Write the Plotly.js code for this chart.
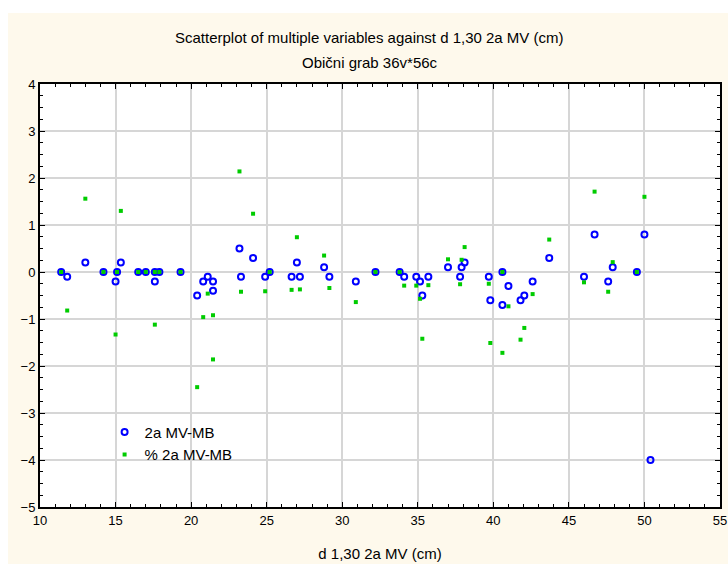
<!DOCTYPE html>
<html>
<head>
<meta charset="utf-8">
<script src="https://cdn.plot.ly/plotly-3.0.1.min.js"></script>
<style>
html,body{margin:0;padding:0;background:#FFFFFF;}
#wrap{position:relative;width:728px;height:568px;}
#bg{position:absolute;left:8px;top:13px;width:720px;height:551px;background:#FEF9EC;}
#chart{position:absolute;left:0;top:0;width:728px;height:568px;}
</style>
</head>
<body>
<div id="wrap"><div id="bg"></div><div id="chart"></div></div>
<script>
// d 1,30 2a MV (cm)
const diameter = [11.4, 11.8, 13.0, 14.2, 15.0, 15.1, 15.35, 16.5, 17.0, 17.6, 17.6, 17.9, 19.3,
  20.4, 20.8, 21.1, 21.45, 21.45, 23.2, 23.3, 24.1, 24.9, 25.2, 26.65, 27.0, 27.2, 28.8, 29.15,
  30.9, 32.2, 33.8, 34.1, 34.9, 35.15, 35.3, 35.7, 37.0, 37.8, 37.9, 38.1, 39.7, 39.8, 40.6, 40.6,
  41.0, 41.8, 42.05, 42.6, 43.7, 46.0, 46.7, 47.6, 47.9, 49.5, 50.0, 50.4];
// 2a MV-MB
const diffMB = [0, -0.1, 0.2, 0, -0.2, 0, 0.2, 0, 0, 0, -0.2, 0, 0,
  -0.5, -0.2, -0.1, -0.2, -0.4, 0.5, -0.1, 0.3, -0.1, 0, -0.1, 0.2, -0.1, 0.1, -0.1,
  -0.2, 0, 0, -0.1, -0.1, -0.2, -0.5, -0.1, 0.1, -0.1, 0.1, 0.2, -0.1, -0.6, 0, -0.7,
  -0.3, -0.6, -0.5, -0.2, 0.3, -0.1, 0.8, -0.2, 0.1, 0, 0.8, -4.0];
// % 2a MV-MB
const pctMB = [0, -0.82, 1.56, 0, -1.33, 0, 1.30, 0, 0, 0, -1.12, 0, 0,
  -2.45, -0.96, -0.46, -0.92, -1.86, 2.14, -0.42, 1.24, -0.41, 0, -0.38, 0.74, -0.37, 0.35, -0.34,
  -0.64, 0, 0, -0.29, -0.29, -0.57, -1.42, -0.28, 0.27, -0.26, 0.26, 0.53, -0.25, -1.51, 0, -1.72,
  -0.73, -1.44, -1.19, -0.47, 0.69, -0.22, 1.71, -0.42, 0.21, 0, 1.60, -7.94];

const seriesNames = ['2a MV-MB', '% 2a MV-MB'];
const titleLine1 = 'Scatterplot of multiple variables against d 1,30 2a MV (cm)';
const titleLine2 = 'Obični grab 36v*56c';
const xTitle = 'd 1,30 2a MV (cm)';

const font = 'Liberation Sans, Arial, sans-serif';

const traces = [
  {
    x: diameter, y: diffMB, name: seriesNames[0], type: 'scatter', mode: 'markers',
    marker: {symbol: 'circle-open', size: 6, color: '#0000FF', line: {width: 2, color: '#0000FF'}}
  },
  {
    x: diameter, y: pctMB, name: seriesNames[1], type: 'scatter', mode: 'markers',
    marker: {symbol: 'square', size: 4, color: '#00CC00'}
  }
];

const axisCommon = {
  showline: true, linecolor: '#000', linewidth: 2, mirror: 'allticks',
  ticks: 'inside', ticklen: 5, tickwidth: 1, tickcolor: '#000',
  showgrid: true, gridcolor: '#D6D6D6', gridwidth: 2, zeroline: false,
  tickfont: {family: font, size: 13, color: '#000'}
};

const layout = {
  width: 728, height: 568,
  paper_bgcolor: 'rgba(0,0,0,0)', plot_bgcolor: '#FFFFFF',
  margin: {l: 40, r: 8, t: 84, b: 61},
  annotations: [
    {text: titleLine1, xref: 'paper', yref: 'paper', x: 0.485, y: 1.111, xanchor: 'center', yanchor: 'middle',
     showarrow: false, font: {family: font, size: 15, color: '#000'}},
    {text: titleLine2, xref: 'paper', yref: 'paper', x: 0.485, y: 1.052, xanchor: 'center', yanchor: 'middle',
     showarrow: false, font: {family: font, size: 15, color: '#000'}}
  ],
  xaxis: Object.assign({}, axisCommon, {
    range: [10, 55], dtick: 5, tick0: 10,
    minor: {dtick: 1, ticks: 'inside', ticklen: 3, tickcolor: '#000', showgrid: false},
    title: {text: xTitle, font: {family: font, size: 15, color: '#000'}, standoff: 22}
  }),
  yaxis: Object.assign({}, axisCommon, {
    range: [-5, 4], dtick: 1, tick0: 0,
    minor: {dtick: 0.25, ticks: 'inside', ticklen: 3, tickcolor: '#000', showgrid: false}
  }),
  showlegend: true,
  legend: {
    x: 0.095, xanchor: 'left', y: 0.216, yanchor: 'top',
    bgcolor: 'rgba(0,0,0,0)', borderwidth: 0, tracegroupgap: 0,
    font: {family: font, size: 15, color: '#000'}
  }
};

Plotly.newPlot('chart', traces, layout, {displayModeBar: false, staticPlot: true});
</script>
</body>
</html>
